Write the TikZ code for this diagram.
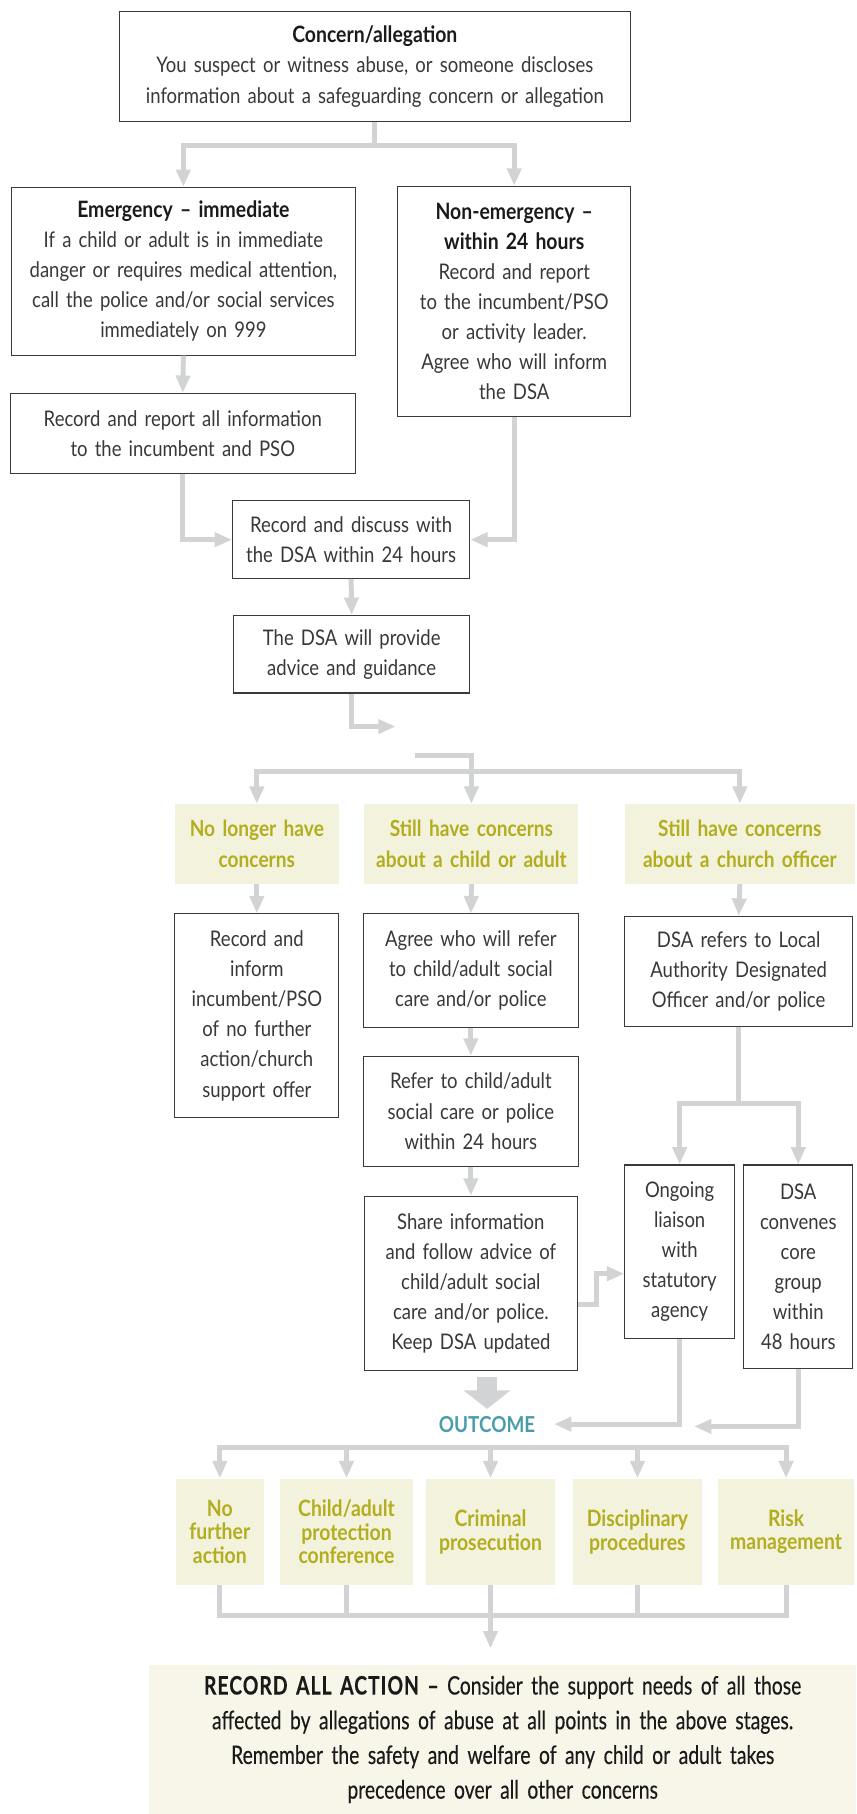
\documentclass[tikz,border=0pt]{standalone}
\usepackage{fontspec}
\setmainfont{Lato}[FakeStretch=0.86]
\newfontfamily\notefont{Lato}[FakeStretch=0.76, FakeBold=0.25]
\usetikzlibrary{arrows.meta}

\definecolor{linegrey}{HTML}{D1D3D4}
\definecolor{boxedge}{HTML}{3A3A3A}
\definecolor{bodytext}{HTML}{383838}
\definecolor{titletext}{HTML}{1A1A1A}
\definecolor{headfill}{HTML}{F3F2DC}
\definecolor{headtext}{HTML}{B3AE1F}
\definecolor{notefill}{HTML}{F8F6E9}
\definecolor{outcometeal}{HTML}{4A9DAA}

\newcommand{\boxtitle}[1]{{\bfseries\fontsize{19.5}{26}\selectfont\color{titletext}#1}}

\tikzset{
  flowbox/.style 2 args={draw=boxedge, line width=0.9pt, text=bodytext, align=center,
    inner sep=0pt, text width=#1, minimum width=#1, minimum height=#2,
    font=\fontsize{18.6}{26}\selectfont},
  headbox/.style 2 args={fill=headfill, text=headtext, align=center, inner sep=0pt,
    text width=#1, minimum width=#1, minimum height=#2,
    font=\bfseries\fontsize{19.2}{27}\selectfont},
  resultbox/.style={fill=headfill, text=headtext, align=center, inner sep=0pt,
    text width=#1, minimum width=#1, minimum height=92pt,
    font=\bfseries\fontsize{19.5}{20.5}\selectfont},
  flowline/.style={draw=linegrey, line width=4.3pt},
  flowarrow/.style={flowline, -{Triangle[width=12pt,length=15pt]}},
  bigarrow/.style={draw=linegrey, line width=17pt, -{Triangle[width=40pt,length=16pt]}},
}

\begin{document}
\begin{tikzpicture}[x=1pt, y=-1pt]
  \useasboundingbox (0,0) rectangle (740,1568);

  % reporting the concern
  \node[flowbox={442pt}{95pt}] (concern) at (324,57.5)
    {\boxtitle{Concern/allegation}\\ You suspect or witness abuse, or someone discloses\\ information about a safeguarding concern or allegation};
  \node[flowbox={297pt}{145pt}] (emerg) at (158.5,234.5)
    {\boxtitle{Emergency – immediate}\\ If a child or adult is in immediate\\ danger or requires medical attention,\\ call the police and/or social services\\ immediately on 999};
  \node[flowbox={201pt}{199pt}] (nonemerg) at (444.5,260.5)
    {\boxtitle{Non-emergency –}\\ \boxtitle{within 24 hours}\\ Record and report\\ to the incumbent/PSO\\ or activity leader.\\ Agree who will inform\\ the DSA};
  \node[flowbox={298pt}{69pt}] (report) at (158,374.5)
    {Record and report all information\\ to the incumbent and PSO};
  \node[flowbox={205pt}{67pt}] (discuss) at (303.5,466.5)
    {Record and discuss with\\ the DSA within 24 hours};
  \node[flowbox={204pt}{67pt}] (dsa) at (304,565.5)
    {The DSA will provide\\ advice and guidance};

  \draw[flowarrow] (concern.south) -- ++(0,20) -| (emerg.north);
  \draw[flowarrow] (concern.south) -- ++(0,20) -| (nonemerg.north);
  \draw[flowarrow] (emerg.south) -- (report.north);
  \draw[flowarrow] (report.south) |- (discuss.west);
  \draw[flowarrow] (nonemerg.south) |- (discuss.east);
  \draw[flowarrow] (discuss.south) -- (dsa.north);

  \coordinate (dsaend) at (342,628);
  \coordinate (rejoin) at (359,653);
  \coordinate (split) at (0,667);
  \draw[flowarrow] (dsa.south) |- (dsaend);

  % three ways on
  \node[headbox={142pt}{69pt}] (nolonger) at (222,729.5) {No longer have\\ concerns};
  \node[headbox={185pt}{69pt}] (childcon) at (407.5,729.5) {Still have concerns\\ about a child or adult};
  \node[headbox={199pt}{69pt}] (officercon) at (639.5,729.5) {Still have concerns\\ about a church officer};

  \draw[flowarrow] (rejoin) -| (childcon.north);
  \draw[flowarrow] (childcon.north |- split) -| (nolonger.north);
  \draw[flowarrow] (childcon.north |- split) -| (officercon.north);

  \node[flowbox={142pt}{176pt}] (inform) at (222,878)
    {Record and\\ inform\\ incumbent/PSO\\ of no further\\ action/church\\ support offer};
  \node[flowbox={186pt}{98pt}] (agree) at (407,839)
    {Agree who will refer\\ to child/adult social\\ care and/or police};
  \node[flowbox={197pt}{95pt}] (lado) at (638.5,839.5)
    {DSA refers to Local\\ Authority Designated\\ Officer and/or police};
  \node[flowbox={186pt}{95pt}] (refer) at (407,960.5)
    {Refer to child/adult\\ social care or police\\ within 24 hours};
  \node[flowbox={184pt}{151pt}] (share) at (407,1109.5)
    {Share information\\ and follow advice of\\ child/adult social\\ care and/or police.\\ Keep DSA updated};
  \node[flowbox={95pt}{150pt}] (liaison) at (587.5,1082)
    {Ongoing\\ liaison\\ with\\ statutory\\ agency};
  \node[flowbox={94pt}{176pt}] (core) at (690,1095)
    {DSA\\ convenes\\ core\\ group\\ within\\ 48 hours};

  \draw[flowarrow] (nolonger.south) -- (inform.north);
  \draw[flowarrow] (childcon.south) -- (agree.north);
  \draw[flowarrow] (officercon.south) -- (lado.north);
  \draw[flowarrow] (agree.south) -- (refer.north);
  \draw[flowarrow] (refer.south) -- (share.north);
  \draw[flowarrow] (lado.south) -- ++(0,66) -| (liaison.north);
  \draw[flowarrow] (lado.south) -- ++(0,66) -| (core.north);
  \draw[flowarrow] ([yshift=-18.5pt]share.east) -- ++(16,0) |- ([yshift=-19pt]liaison.west);

  % outcome
  \node[text=outcometeal, font=\bfseries\fontsize{19}{22}\selectfont,
    inner xsep=16pt, inner ysep=6pt] (outcome) at (421,1231) {OUTCOME};
  \coordinate (coreend) at (600,1233);
  \draw[bigarrow] ([yshift=-5pt]outcome.north |- share.south) -- (outcome.north);
  \draw[flowarrow] (liaison.south) |- (outcome.east);
  \draw[flowarrow] (core.south) |- (coreend);

  \node[resultbox=76pt] (out1) at (190,1324) {No\\ further\\ action};
  \node[resultbox=115pt] (out2) at (299.5,1324) {Child/adult\\ protection\\ conference};
  \node[resultbox=112pt] (out3) at (424,1324) {Criminal\\ prosecution};
  \node[resultbox=112pt] (out4) at (551,1324) {Disciplinary\\ procedures};
  \node[resultbox=117pt] (out5) at (679.5,1324) {Risk\\ management};

  \coordinate (obar) at (0,1251);
  \coordinate (nbar) at (0,1396);
  \draw[flowarrow] (out3.north |- obar) -| (out1.north);
  \draw[flowarrow] (out3.north |- obar) -| (out5.north);
  \foreach \b in {out2,out3,out4}
    \draw[flowarrow] (\b.north |- obar) -- (\b.north);

  \draw[flowline] (out1.south) |- (out5.south |- nbar) -- (out5.south);
  \foreach \b in {out2,out3,out4}
    \draw[flowline] (\b.south) -- (\b.south |- nbar);

  % final note
  \node[fill=notefill, text=titletext, align=center, inner sep=0pt,
    text width=611pt, minimum width=611pt, minimum height=129pt,
    font=\notefont\fontsize{22}{30}\selectfont] (recordall) at (434.5,1503.5)
    {{\bfseries\addfontfeature{LetterSpace=4}RECORD ALL ACTION –} Consider the support needs of all those\\
     affected by allegations of abuse at all points in the above stages.\\
     Remember the safety and welfare of any child or adult takes\\
     precedence over all other concerns};
  \draw[flowarrow, shorten >=14pt] (out3.south |- nbar) -- (out3.south |- recordall.north);
\end{tikzpicture}
\end{document}
